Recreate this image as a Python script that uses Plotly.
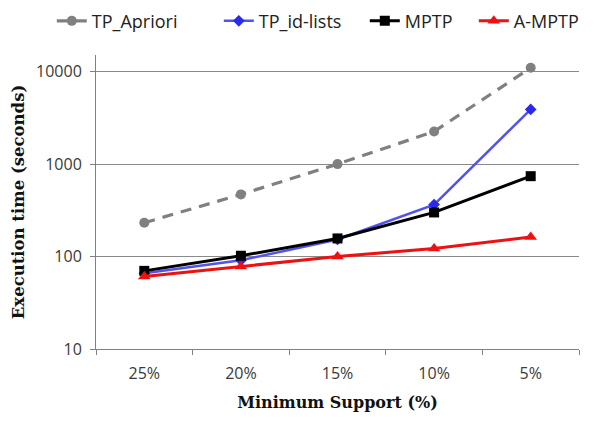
import plotly.graph_objects as go

categories = ["25%", "20%", "15%", "10%", "5%"]
tp_apriori = [232, 470, 1000, 2250, 11000]
tp_idlists = [66, 91, 153, 365, 3900]
mptp = [70, 102, 157, 300, 740]
a_mptp = [61, 78, 100, 122, 163]

fig = go.Figure()
fig.add_trace(go.Scatter(x=categories, y=tp_apriori, name="TP_Apriori", mode="lines+markers",
                         line=dict(color="#808080", width=3.2, dash="11px,8px"),
                         marker=dict(symbol="circle", size=10, color="#808080"), legendwidth=122))
fig.add_trace(go.Scatter(x=categories, y=tp_idlists, name="TP_id-lists", mode="lines+markers",
                         line=dict(color="#5252ee", width=2.5),
                         marker=dict(symbol="diamond", size=9, color="#2a2aee"), legendwidth=101))
fig.add_trace(go.Scatter(x=categories, y=mptp, name="MPTP", mode="lines+markers",
                         line=dict(color="#000000", width=3),
                         marker=dict(symbol="square", size=10, color="#000000"), legendwidth=64))
fig.add_trace(go.Scatter(x=categories, y=a_mptp, name="A-MPTP", mode="lines+markers",
                         line=dict(color="#ee1111", width=3),
                         marker=dict(symbol="triangle-up", size=11, color="#ee1111"), legendwidth=66))

fig.update_layout(
    width=592, height=415,
    margin=dict(l=88, r=21, t=47, b=74, autoexpand=False),
    paper_bgcolor="white", plot_bgcolor="white",
    font=dict(family="Open Sans, sans-serif", color="#222222"),
    showlegend=True,
    legend=dict(orientation="h", xref="paper", yref="paper",
                x=-0.0915, xanchor="left", y=1.178, yanchor="top",
                font=dict(size=18, family="Open Sans, sans-serif", color="#222222"),
                traceorder="normal"),
    xaxis=dict(
        type="category", showgrid=False, showline=True, linecolor="#808080", linewidth=1,
        ticks="outside", tickson="boundaries", ticklen=5, tickcolor="#808080",
        ticklabelstandoff=10,
        tickfont=dict(size=16, family="Open Sans, sans-serif", color="#3a3a3a"),
        title=dict(text="<b>Minimum Support (%)</b>",
                   font=dict(size=16, family="DejaVu Serif, serif", color="#111111"), standoff=13),
        range=[-0.5, 4.5],
    ),
    yaxis=dict(
        type="log", range=[1, 4.18], showgrid=True, gridcolor="#8a8a8a", gridwidth=1,
        showline=True, linecolor="#808080", linewidth=1, ticks="outside", ticklen=5,
        tickcolor="#808080", tickvals=[10, 100, 1000, 10000], ticktext=["10", "100", "1000", "10000"],
        ticklabelstandoff=5,
        tickfont=dict(size=16, family="Open Sans, sans-serif", color="#3a3a3a"),
        title=dict(text="<b>Execution time (seconds)</b>",
                   font=dict(size=16.5, family="DejaVu Serif, serif", color="#111111"), standoff=7),
        zeroline=False,
    ),
)
fig.write_html("out.html")
